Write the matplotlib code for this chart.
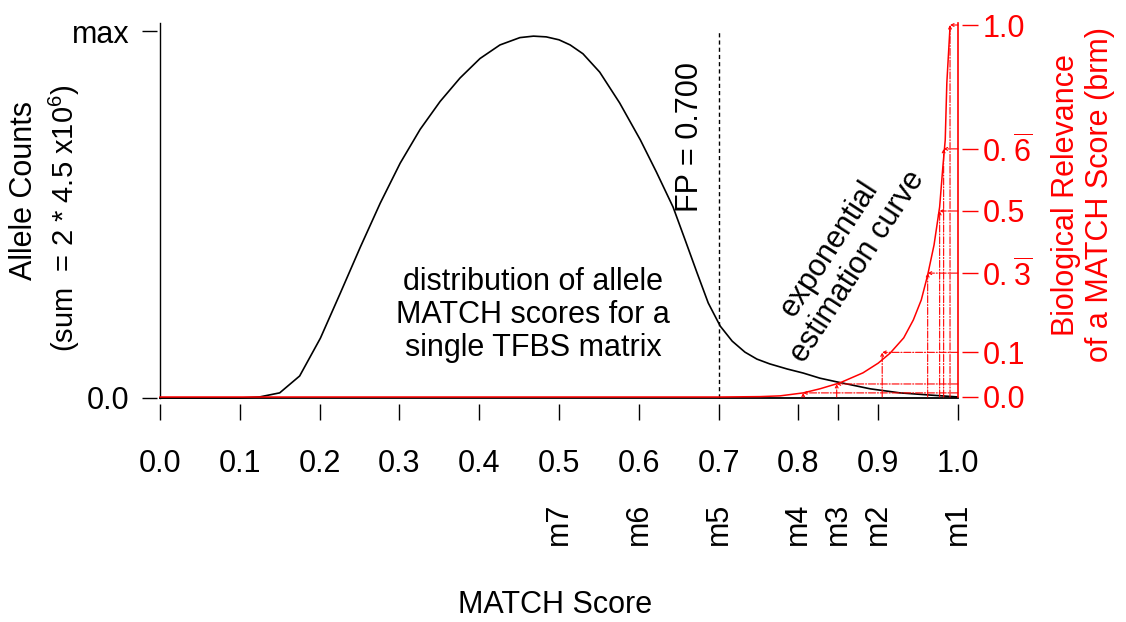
import numpy as np
import matplotlib
matplotlib.use("Agg")
import matplotlib.pyplot as plt
from matplotlib.transforms import blended_transform_factory

plt.rcParams['font.family'] = ['Liberation Sans', 'DejaVu Sans']
plt.rcParams['mathtext.fontset'] = 'custom'
plt.rcParams['mathtext.rm'] = 'Liberation Sans'
plt.rcParams['mathtext.default'] = 'rm'

# allele MATCH score distribution (counts scaled to max = 1)
score = [0.0, 0.100, 0.125, 0.150, 0.175, 0.201, 0.226, 0.251, 0.276, 0.301,
         0.326, 0.351, 0.376, 0.401, 0.426, 0.451, 0.468, 0.484, 0.500, 0.514,
         0.530, 0.551, 0.576, 0.602, 0.622, 0.643, 0.658, 0.673, 0.687, 0.702,
         0.717, 0.733, 0.748, 0.764, 0.786, 0.806, 0.827, 0.848, 0.890, 0.927,
         0.965, 0.999]
counts = [0.0, 0.0, 0.003, 0.014, 0.060, 0.163, 0.286, 0.411, 0.531, 0.640,
          0.732, 0.808, 0.872, 0.925, 0.962, 0.982, 0.986, 0.984, 0.976, 0.962,
          0.938, 0.888, 0.804, 0.703, 0.616, 0.520, 0.431, 0.341, 0.259, 0.196,
          0.155, 0.125, 0.106, 0.093, 0.079, 0.068, 0.054, 0.044, 0.025, 0.014,
          0.008, 0.003]

# exponential estimation curve (biological relevance, brm)
brm_score = [0.0, 0.702, 0.752, 0.777, 0.806, 0.827, 0.852, 0.881, 0.900, 0.915,
             0.932, 0.944, 0.954, 0.962, 0.970, 0.977, 0.981, 0.984, 0.986, 0.990]
brm = [0.0, 0.0, 0.001, 0.003, 0.011, 0.022, 0.038, 0.065, 0.091, 0.118,
       0.159, 0.207, 0.261, 0.328, 0.409, 0.511, 0.618, 0.691, 0.844, 0.995]

# m-levels read back from the curve
level_score = [0.806, 0.848, 0.905, 0.962, 0.977, 0.982, 0.990]
level_brm = [0.011, 0.035, 0.12, 0.333, 0.50, 0.667, 1.0]

xticks = [0.0, 0.1, 0.2, 0.3, 0.4, 0.5, 0.6, 0.7, 0.8, 0.85, 0.9, 1.0]
xtick_labels = ['0.0', '0.1', '0.2', '0.3', '0.4', '0.5', '0.6', '0.7', '0.8', '', '0.9', '1.0']
m_pos = [0.5, 0.6, 0.7, 0.8, 0.85, 0.9, 1.0]
m_labels = ['m7', 'm6', 'm5', 'm4', 'm3', 'm2', 'm1']
brm_ticks = [0.0, 0.12, 1 / 3, 0.5, 2 / 3, 1.0]
brm_labels = ['0.0', '0.1', r'$0.\overline{3}$', '0.5', r'$0.\overline{6}$', '1.0']
fp = 0.7

W, H = 1126, 622
fig = plt.figure(figsize=(W / 100, H / 100), dpi=100)
left, right, top, bottom = 160, 958, 23, 400
ax = fig.add_axes([left / W, 1 - bottom / H, (right - left) / W, (bottom - top) / H])
ax.set_xlim(0, 1)
ax.set_ylim(-0.00545, 1.0218)
ax2 = ax.twinx()
ax2.set_ylim(-0.0081, 1.0054)

fs = 22
for a in (ax, ax2):
    for s in a.spines.values():
        s.set_visible(False)
ax.spines['bottom'].set_position(('outward', 3))
ax.spines['left'].set_position(('outward', 2))
ax2.spines['right'].set_position(('outward', 3))

# black axis lines
ax.plot([0, 0], [0, 1.0218], color='black', lw=1, clip_on=False)
ax.plot([0, 1], [0, 0], color='black', lw=1.3, clip_on=False)

ax.set_xticks(xticks)
ax.set_xticklabels(xtick_labels)
ax.tick_params(axis='x', length=11.5, width=1, pad=21, labelsize=fs)
ax.set_yticks([0, 1])
ax.set_yticklabels(['0.0', 'max'])
ax.tick_params(axis='y', length=11, width=1, pad=9, labelsize=fs)

ax.plot(score, counts, color='black', lw=1.2, clip_on=False)
ax.plot([fp, fp], [0, 1.0], color='black', lw=1, dashes=(3, 2.2))

# brm axis in red
ax2.plot(brm_score, brm, color='red', lw=1.1, clip_on=False)
ax2.plot([1, 1], [0, 1.0054], color='red', lw=1.2, clip_on=False)
for lx, ly in zip(level_score, level_brm):
    ax2.annotate('', xy=(lx, ly), xytext=(1.0, ly),
                 arrowprops=dict(arrowstyle='->', color='red', lw=0.8, linestyle='-.',
                                 shrinkA=0, shrinkB=0, mutation_scale=5))
    ax2.annotate('', xy=(lx, ly), xytext=(lx, 0),
                 arrowprops=dict(arrowstyle='->', color='red', lw=0.8, linestyle='-.',
                                 shrinkA=0, shrinkB=0, mutation_scale=5))
ax2.set_yticks(brm_ticks)
ax2.set_yticklabels(brm_labels)
ax2.tick_params(axis='y', length=11.5, width=1, pad=3, labelsize=fs,
                colors='red')

# m-level labels under the score ticks
tr = blended_transform_factory(ax.transData, fig.transFigure)
for p, lab in zip(m_pos, m_labels):
    ax.text(p, 1 - 545 / H, lab, transform=tr, rotation=90, rotation_mode='anchor',
            ha='left', va='center', fontsize=fs)

fig.text(555 / W, 1 - 605 / H, 'MATCH Score', ha='center', va='center', fontsize=fs)
fig.text(24 / W, 1 - 190 / H, 'Allele Counts', rotation=90, ha='center', va='center', fontsize=fs)
fig.text(64 / W, 1 - 218 / H, r'(sum  = 2 * 4.5 x10$^{6}$)', rotation=90, ha='center',
         va='center', fontsize=fs - 1)
fig.text(1083 / W, 1 - 195 / H, 'Biological Relevance\nof a MATCH Score (brm)', rotation=90,
         ha='center', va='center', fontsize=fs, color='red', linespacing=1.15)

fig.text(690 / W, 1 - 137 / H, 'FP = 0.700', rotation=90, ha='center', va='center', fontsize=fs)
fig.text(533 / W, 1 - 315 / H, 'distribution of allele\nMATCH scores for a\nsingle TFBS matrix',
         ha='center', va='center', fontsize=fs, linespacing=1.15)
fig.text(844 / W, 1 - 258 / H, 'exponential\nestimation curve', rotation=57, ha='center',
         va='center', fontsize=fs, rotation_mode='anchor', linespacing=1.15)

fig.savefig('out.png', dpi=100)
